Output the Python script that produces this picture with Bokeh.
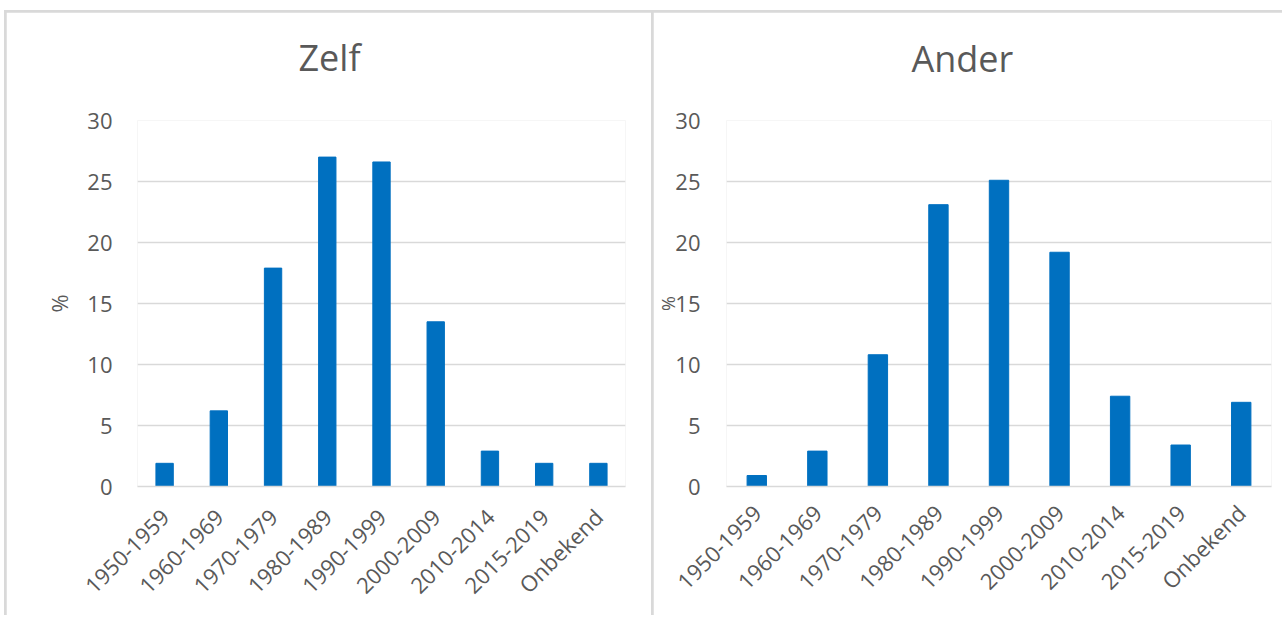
from math import pi
from bokeh.plotting import figure
from bokeh.models import Range1d, FactorRange, FixedTicker, Title
from bokeh.layouts import row
from bokeh.embed import file_html
from bokeh.resources import INLINE

categories = ["1950-1959", "1960-1969", "1970-1979", "1980-1989", "1990-1999",
              "2000-2009", "2010-2014", "2015-2019", "Onbekend"]
zelf = [1.9, 6.2, 17.9, 27.0, 26.6, 13.5, 2.9, 1.9, 1.9]
ander = [0.9, 2.9, 10.8, 23.1, 25.1, 19.2, 7.4, 3.4, 6.9]
y_ticks = [0, 5, 10, 15, 20, 25, 30]
titles = ["Zelf", "Ander"]
y_label = "%"

FONT = "Open Sans"
TXT = "#595959"
GRID = "#d9d9d9"
BAR = "#0070c0"


def make(values, title, width, fl, fr, ft, fb, tick_standoff, t_offset, spacer, x_standoff):
    p = figure(x_range=FactorRange(*categories), y_range=Range1d(0, 30),
               width=width, height=603, output_backend="svg", toolbar_location=None,
               min_border_left=fl, min_border_right=fr, min_border_top=ft, min_border_bottom=fb)
    p.vbar(x=categories, top=values, width=0.32, color=BAR)
    # spacer between frame and title, then the title itself
    p.add_layout(Title(text=" ", text_font_size="2px", standoff=spacer), "above")
    p.add_layout(Title(text=title, text_font=FONT, text_font_size="36px",
                       text_font_style="normal", text_color=TXT, align="left",
                       offset=t_offset, standoff=10, vertical_align="bottom"), "above")
    p.outline_line_color = None
    p.background_fill_color = "white"
    p.border_fill_color = "white"
    p.xgrid.grid_line_color = None
    p.ygrid.grid_line_color = GRID
    p.ygrid.grid_line_width = 1.5
    p.yaxis.ticker = FixedTicker(ticks=y_ticks)
    p.yaxis.axis_line_color = None
    p.yaxis.major_tick_line_color = None
    p.yaxis.minor_tick_line_color = None
    p.yaxis.major_tick_out = 0
    p.yaxis.major_tick_in = 0
    p.yaxis.major_label_standoff = tick_standoff
    p.yaxis.major_label_text_font = FONT
    p.yaxis.major_label_text_font_size = "22px"
    p.yaxis.major_label_text_color = TXT
    p.yaxis.axis_label = y_label
    p.yaxis.axis_label_text_font = FONT
    p.yaxis.axis_label_text_font_style = "normal"
    p.yaxis.axis_label_text_color = TXT
    p.xaxis.axis_line_color = GRID
    p.xaxis.axis_line_width = 1.5
    p.xaxis.major_tick_line_color = None
    p.xaxis.major_tick_out = 0
    p.xaxis.major_tick_in = 0
    p.xaxis.major_label_orientation = pi / 4
    p.xaxis.major_label_standoff = x_standoff
    p.xaxis.major_label_text_font = FONT
    p.xaxis.major_label_text_font_size = "22px"
    p.xaxis.major_label_text_color = TXT
    p.x_range.range_padding = 0
    return p


left = make(zelf, titles[0], 645, 131, 26, 104, 129, 25, 161, 30, 26)
left.yaxis.axis_label_text_font_size = "22px"
left.yaxis.axis_label_standoff = 10

right = make(ander, titles[1], 629, 68, 11, 108, 125, 26, 185, 29, 22)
right.yaxis.axis_label_text_font_size = "18px"
right.yaxis.axis_label_standoff = -8

layout = row(left, right, spacing=2, margin=(10, 0, 0, 4),
             styles={"background-color": GRID, "padding-top": "2px", "padding-left": "2px"})

open("out.html", "w").write(file_html(layout, INLINE))
